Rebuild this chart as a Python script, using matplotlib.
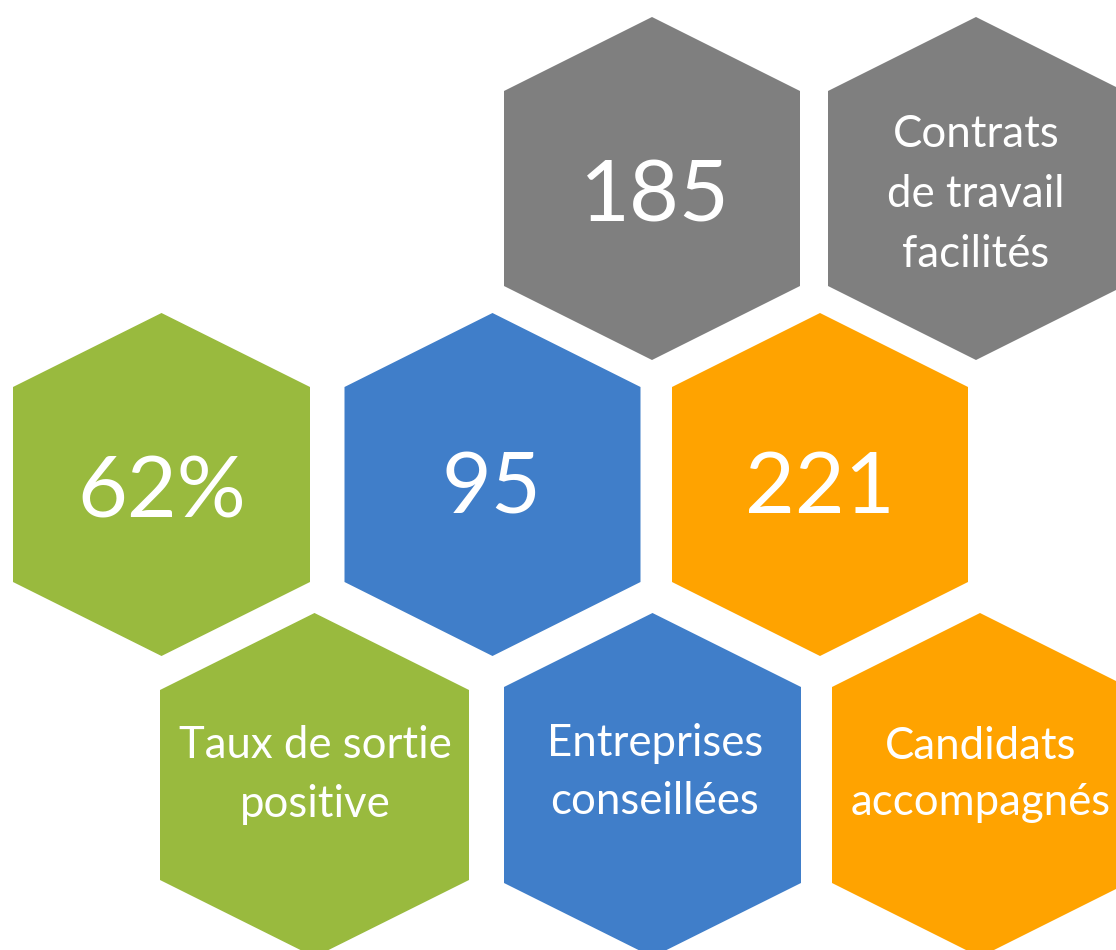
import matplotlib
matplotlib.use("Agg")
import matplotlib.pyplot as plt
from matplotlib.patches import Polygon

# ---- data ----
values = ["185", "62%", "95", "221"]
labels = ["Contrats\nde travail\nfacilités",
          "Taux de sortie\npositive",
          "Entreprises\nconseillées",
          "Candidats\naccompagnés"]
colors = {"gray": "#7F7F7F", "green": "#99BA3E", "blue": "#407EC9", "orange": "#FFA300"}
value_colors = ["gray", "green", "blue", "orange"]
label_colors = ["gray", "green", "blue", "orange"]

# ---- layout (pixel coordinates, y downward) ----
# hexagon: (cx, cy, half-width, half-height, shoulder offset)
value_hex = [(652, 188.5, 148, 171.5, 74),
             (161.5, 484.5, 148.5, 171.5, 74),
             (492.5, 484.5, 148, 171.5, 74),
             (820, 484.5, 148, 171.5, 74)]
label_hex = [(976, 188.5, 148, 171.5, 74),
             (314.5, 785, 154.5, 172, 77),
             (652.5, 785, 148.5, 172, 74),
             (980, 785, 148, 172, 74)]
value_text_pos = [(655, 221), (162, 518), (491, 513), (820, 513)]
label_text_pos = [(976, 147, 60), (315, 758, 59), (655, 756, 58), (981, 759, 56)]

W, H = 1116, 950
fig = plt.figure(figsize=(W / 100, H / 100), dpi=100)
ax = fig.add_axes([0, 0, 1, 1])
ax.set_xlim(0, W)
ax.set_ylim(H, 0)
ax.axis("off")

FONT = "Lato"


def hexagon(cx, cy, w, h, s, color):
    pts = [(cx, cy - h), (cx + w, cy - h + s), (cx + w, cy + h - s),
           (cx, cy + h), (cx - w, cy + h - s), (cx - w, cy - h + s)]
    ax.add_patch(Polygon(pts, closed=True, facecolor=color, edgecolor="none"))


for (cx, cy, w, h, s), c in zip(value_hex, value_colors):
    hexagon(cx, cy, w, h, s, colors[c])
for (cx, cy, w, h, s), c in zip(label_hex, label_colors):
    hexagon(cx, cy, w, h, s, colors[c])

for v, (x, y) in zip(values, value_text_pos):
    ax.text(x, y, v, ha="center", va="baseline", color="white",
            fontsize=62, family=FONT)

for lab, (x, y, pitch) in zip(labels, label_text_pos):
    for i, line in enumerate(lab.split("\n")):
        ax.text(x, y + i * pitch, line, ha="center", va="baseline",
                color="white", fontsize=31.5, family=FONT)

fig.savefig("out.png", dpi=100)
